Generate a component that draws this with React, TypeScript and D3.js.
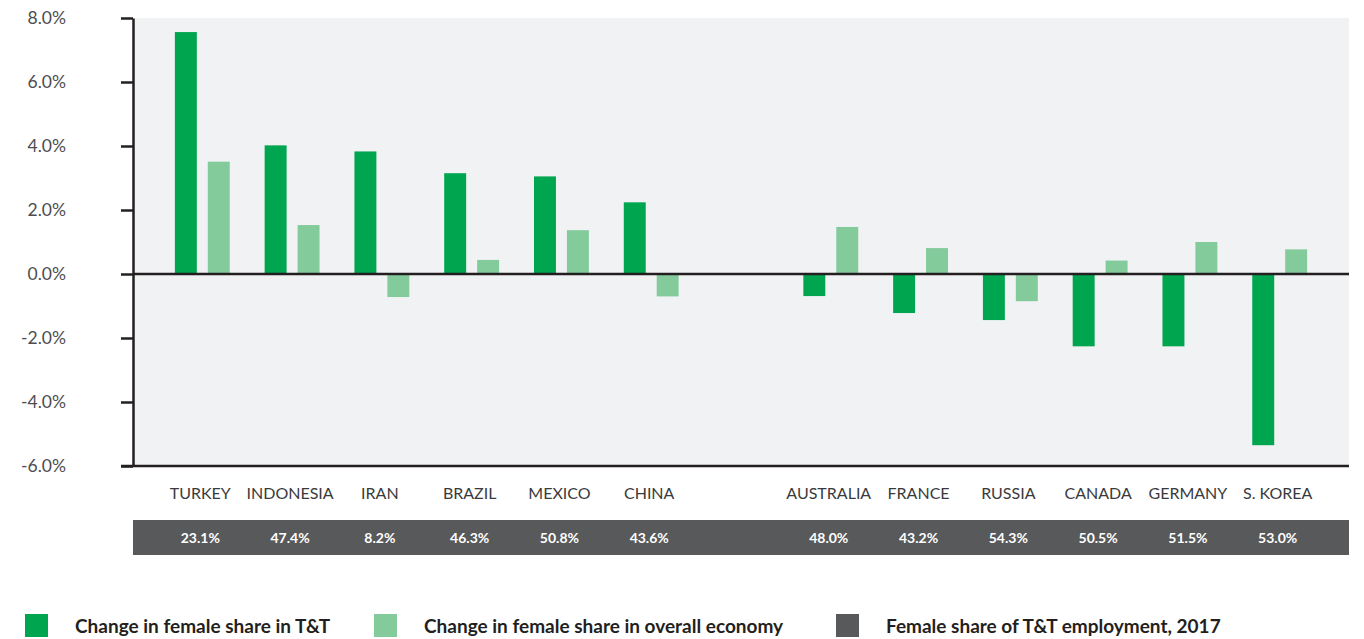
import * as d3 from 'd3';
import { useEffect, useRef } from 'react';

const countries = ['TURKEY', 'INDONESIA', 'IRAN', 'BRAZIL', 'MEXICO', 'CHINA', 'AUSTRALIA', 'FRANCE', 'RUSSIA', 'CANADA', 'GERMANY', 'S. KOREA'];
const ttChange = [7.56, 4.02, 3.83, 3.15, 3.05, 2.24, -0.69, -1.22, -1.44, -2.26, -2.26, -5.35];
const economyChange = [3.51, 1.53, -0.72, 0.44, 1.37, -0.7, 1.47, 0.81, -0.85, 0.42, 1.0, 0.77];
const femaleShare2017 = ['23.1%', '47.4%', '8.2%', '46.3%', '50.8%', '43.6%', '48.0%', '43.2%', '54.3%', '50.5%', '51.5%', '53.0%'];
const yTicks = [-6, -4, -2, 0, 2, 4, 6, 8];
const seriesKeys = ['tt', 'economy'];
const legendLabels = ['Change in female share in T&T', 'Change in female share in overall economy', 'Female share of T&T employment, 2017'];

const DARK_GREEN = '#00a54f';
const LIGHT_GREEN = '#84cb9c';
const GREY_BAND = '#58595b';
const AXIS = '#231f20';
const FONT = 'Lato, "Open Sans", sans-serif';

const Chart = () => {
  const ref = useRef<SVGSVGElement | null>(null);

  useEffect(() => {
    if (!ref.current) return;
    const svg = d3.select(ref.current);
    svg.selectAll('*').remove();

    const left = 133;
    const right = 1349;
    const top = 18;
    const bottom = 466;

    // a blank slot splits the two country groups
    const slots = [...countries.slice(0, 6), '__gap', ...countries.slice(6)];
    const x0 = d3.scaleBand<string>().domain(slots).range([left, right]).paddingInner(0).paddingOuter(0.272);
    const x1 = d3.scaleBand<string>().domain(seriesKeys).range([0, x0.step()]).paddingInner(1 / 3).paddingOuter(0.53);
    const y = d3.scaleLinear().domain([-6, 8]).range([bottom, top]);

    svg.append('rect')
      .attr('x', left).attr('y', top)
      .attr('width', right - left).attr('height', bottom - top)
      .attr('fill', '#f1f2f4');

    const rows = countries.map((c, i) => ({ country: c, tt: ttChange[i], economy: economyChange[i], share: femaleShare2017[i] }));

    const groups = svg.append('g').selectAll('g')
      .data(rows)
      .enter()
      .append('g')
      .attr('transform', d => `translate(${x0(d.country)}, 0)`);

    groups.selectAll('rect')
      .data(d => seriesKeys.map(k => ({ key: k, value: (d as any)[k] as number })))
      .enter()
      .append('rect')
      .attr('x', d => x1(d.key)!)
      .attr('width', x1.bandwidth())
      .attr('y', d => y(Math.max(0, d.value)))
      .attr('height', d => Math.abs(y(d.value) - y(0)))
      .attr('fill', d => (d.key === 'tt' ? DARK_GREEN : LIGHT_GREEN));

    // axes
    const yAxis = svg.append('g').attr('transform', `translate(${left}, 0)`)
      .call(d3.axisLeft(y).tickValues(yTicks).tickSize(12).tickSizeOuter(0).tickFormat(d => `${(d as number).toFixed(1)}%`));
    yAxis.select('.domain').attr('stroke', AXIS).attr('stroke-width', 2.5);
    yAxis.selectAll('.tick line').attr('stroke', AXIS).attr('stroke-width', 2.5);
    yAxis.selectAll('.tick text')
      .attr('x', -67)
      .attr('fill', '#4d4d4f')
      .style('font-family', FONT)
      .style('font-size', '17.5px');

    svg.append('line')
      .attr('x1', left).attr('x2', right)
      .attr('y1', y(0)).attr('y2', y(0))
      .attr('stroke', AXIS).attr('stroke-width', 2.5);
    svg.append('line')
      .attr('x1', left - 12).attr('x2', right)
      .attr('y1', y(-6)).attr('y2', y(-6))
      .attr('stroke', AXIS).attr('stroke-width', 2.5);

    // category labels
    svg.append('g').selectAll('text')
      .data(rows)
      .enter()
      .append('text')
      .attr('x', d => x0(d.country)! + x0.bandwidth() / 2 - 2)
      .attr('y', 499)
      .attr('text-anchor', 'middle')
      .attr('fill', '#3a3a3c')
      .style('font-family', FONT)
      .style('font-size', '16px')
      .text(d => d.country);

    // female share band
    svg.append('rect')
      .attr('x', left).attr('y', 520)
      .attr('width', right - left).attr('height', 35)
      .attr('fill', GREY_BAND);
    svg.append('g').selectAll('text')
      .data(rows)
      .enter()
      .append('text')
      .attr('x', d => x0(d.country)! + x0.bandwidth() / 2 - 2)
      .attr('y', 542.5)
      .attr('text-anchor', 'middle')
      .attr('fill', '#ffffff')
      .style('font-family', FONT)
      .style('font-weight', 700)
      .style('font-size', '14px')
      .text(d => d.share);

    // legend
    const legendX = [25, 374, 836];
    const legendColors = [DARK_GREEN, LIGHT_GREEN, GREY_BAND];
    const legend = svg.append('g').selectAll('g')
      .data(legendLabels)
      .enter()
      .append('g')
      .attr('transform', (_, i) => `translate(${legendX[i]}, 614)`);
    legend.append('rect')
      .attr('width', 23).attr('height', 23)
      .attr('fill', (_, i) => legendColors[i]);
    legend.append('text')
      .attr('x', 50).attr('y', 19)
      .attr('fill', AXIS)
      .style('font-family', FONT)
      .style('font-weight', 700)
      .style('font-size', '19px')
      .text(d => d);
  }, []);

  return <svg ref={ref} width={1364} height={639} style={{ position: 'absolute', left: 0, top: 0, background: '#fff' }} />;
};

export default function App() {
  return <Chart />;
}
